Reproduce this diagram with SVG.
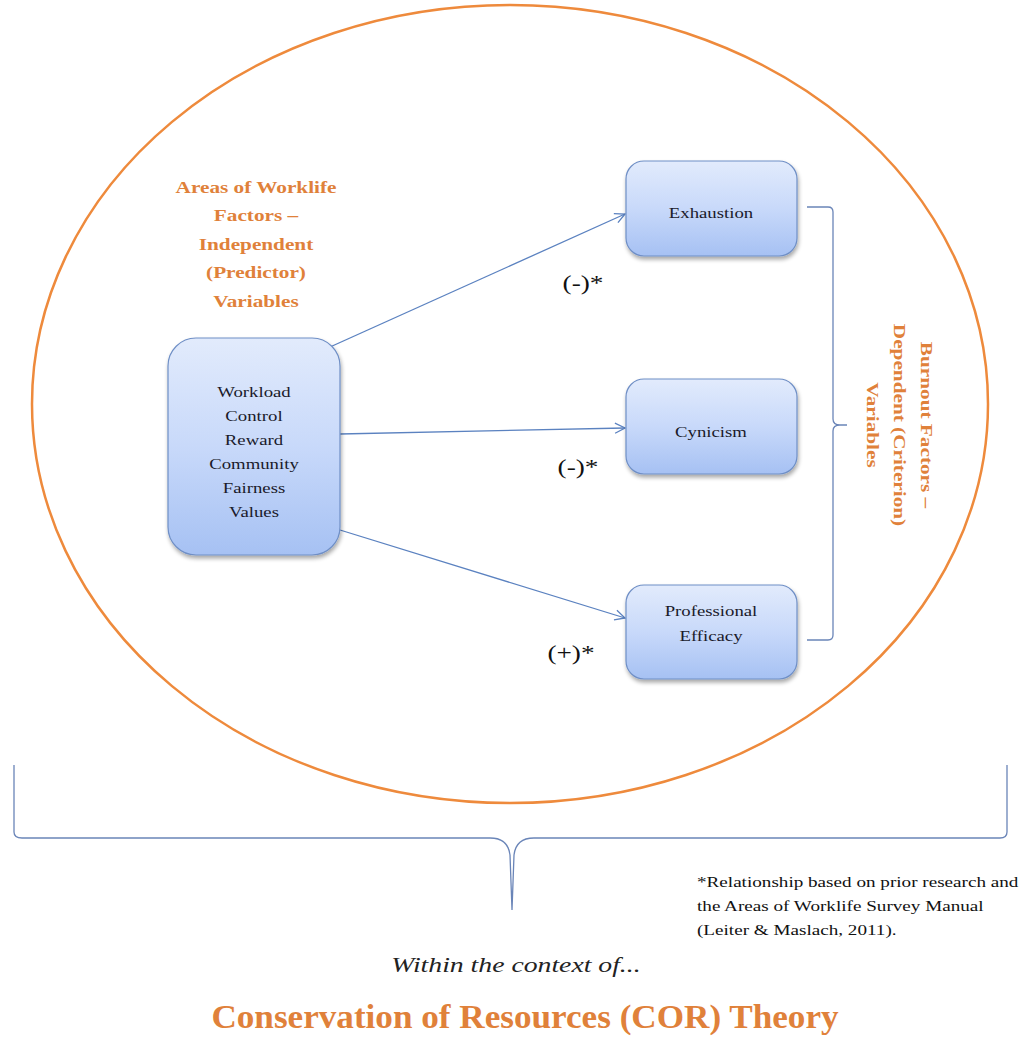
<svg xmlns="http://www.w3.org/2000/svg" width="1021" height="1038" viewBox="0 0 1021 1038">
<defs>
<linearGradient id="bg" x1="0" y1="0" x2="0" y2="1">
<stop offset="0" stop-color="#e2ebfc"/>
<stop offset="0.5" stop-color="#c8d9fa"/>
<stop offset="1" stop-color="#a6c1f3"/>
</linearGradient>
<filter id="sh" x="-10%" y="-10%" width="130%" height="130%">
<feGaussianBlur in="SourceAlpha" stdDeviation="2"/>
<feOffset dx="1" dy="3"/>
<feComponentTransfer><feFuncA type="linear" slope="0.35"/></feComponentTransfer>
<feMerge><feMergeNode/><feMergeNode in="SourceGraphic"/></feMerge>
</filter>
<marker id="ah" viewBox="0 0 12 12" refX="11" refY="6" markerWidth="12" markerHeight="12" markerUnits="userSpaceOnUse" orient="auto">
<path d="M1,1 L11,6 L1,11" fill="none" stroke="#5b82c0" stroke-width="1.3"/>
</marker>
</defs>
<style>
.box{fill:url(#bg);stroke:#6f8fc6;stroke-width:1.2;filter:url(#sh)}
.bt{font-family:"Liberation Serif","Times New Roman",serif;font-size:15px;fill:#1a1a2a;text-anchor:middle}
.or{font-family:"Liberation Serif","Times New Roman",serif;font-weight:bold;font-size:17px;fill:#e0813a;text-anchor:middle}
.lbl{font-family:"Liberation Serif","Times New Roman",serif;font-size:21px;fill:#111;text-anchor:middle}
.con{fill:none;stroke:#5b82c0;stroke-width:1.3}
.br{fill:none;stroke:#6a85b8;stroke-width:1.3}
.fn{font-family:"Liberation Serif","Times New Roman",serif;font-size:15.5px;fill:#111}
</style>
<rect width="1021" height="1038" fill="#fff"/>
<ellipse cx="510" cy="404" rx="478" ry="399" fill="none" stroke="#ee8a3c" stroke-width="2.5"/>

<g id="areas-label" transform="translate(256,0) scale(1.25,1)">
<text class="or" x="0" y="193">Areas of Worklife</text>
<text class="or" x="0" y="221.5">Factors –</text>
<text class="or" x="0" y="250">Independent</text>
<text class="or" x="0" y="278.5">(Predictor)</text>
<text class="or" x="0" y="307">Variables</text>
</g>

<g id="connectors">
<line class="con" x1="330" y1="347" x2="625" y2="214" marker-end="url(#ah)"/>
<line class="con" x1="340" y1="434" x2="625" y2="428" marker-end="url(#ah)"/>
<line class="con" x1="340" y1="530" x2="625" y2="618" marker-end="url(#ah)"/>
</g>

<g id="predictors">
<rect class="box" x="168" y="338" width="172" height="217" rx="28"/>
<g transform="translate(254,0) scale(1.25,1)">
<text class="bt" x="0" y="397">Workload</text>
<text class="bt" x="0" y="421">Control</text>
<text class="bt" x="0" y="445">Reward</text>
<text class="bt" x="0" y="469">Community</text>
<text class="bt" x="0" y="493">Fairness</text>
<text class="bt" x="0" y="517">Values</text>
</g>
</g>

<g id="exhaustion">
<rect class="box" x="626" y="161" width="171" height="95" rx="18"/>
<text class="bt" x="0" y="218" transform="translate(711,0) scale(1.25,1)">Exhaustion</text>
</g>
<g id="cynicism">
<rect class="box" x="626" y="379" width="171" height="95" rx="18"/>
<text class="bt" x="0" y="437" transform="translate(711,0) scale(1.25,1)">Cynicism</text>
</g>
<g id="efficacy">
<rect class="box" x="626" y="585" width="171" height="94" rx="18"/>
<g transform="translate(711,0) scale(1.25,1)">
<text class="bt" x="0" y="616">Professional</text>
<text class="bt" x="0" y="641">Efficacy</text>
</g>
</g>

<g id="labels">
<text class="lbl" x="0" y="290" transform="translate(583,0) scale(1.3,1)">(-)*</text>
<text class="lbl" x="0" y="474" transform="translate(578,0) scale(1.3,1)">(-)*</text>
<text class="lbl" x="0" y="660" transform="translate(571,0) scale(1.3,1)">(+)*</text>
</g>

<g id="right-brace">
<path class="br" d="M807,207 L828,207 Q833,207 833,212 L833,419 Q833,425 840,425 L847,425 M840,425 Q833,425 833,431 L833,635 Q833,640 828,640 L807,640"/>
</g>

<g id="burnout-label" transform="translate(900,425) rotate(90) scale(1.25,1)">
<text class="or" x="0" y="-21">Burnout Factors –</text>
<text class="or" x="0" y="6">Dependent (Criterion)</text>
<text class="or" x="0" y="33">Variables</text>
</g>

<g id="bottom-brace">
<path class="br" d="M14,765 L14,832 Q14,838 22,838 L490,838 Q508,838 510,855 L512,910 M512,910 L514,855 Q516,838 534,838 L1000,838 Q1007,838 1007,832 L1007,765"/>
</g>

<g id="footnote" transform="translate(697,0) scale(1.235,1)">
<text class="fn" x="0" y="887">*Relationship based on prior research and</text>
<text class="fn" x="0" y="911">the Areas of Worklife Survey Manual</text>
<text class="fn" x="0" y="935">(Leiter &amp; Maslach, 2011).</text>
</g>

<text x="0" y="972" transform="translate(516,0) scale(1.32,1)" font-family="Liberation Serif, serif" font-style="italic" font-size="21" fill="#222" text-anchor="middle">Within the context of...</text>
<text x="0" y="1028" transform="translate(525,0) scale(1.065,1)" font-family="Liberation Serif, serif" font-weight="bold" font-size="33" fill="#e0813a" text-anchor="middle">Conservation of Resources (COR) Theory</text>
</svg>
